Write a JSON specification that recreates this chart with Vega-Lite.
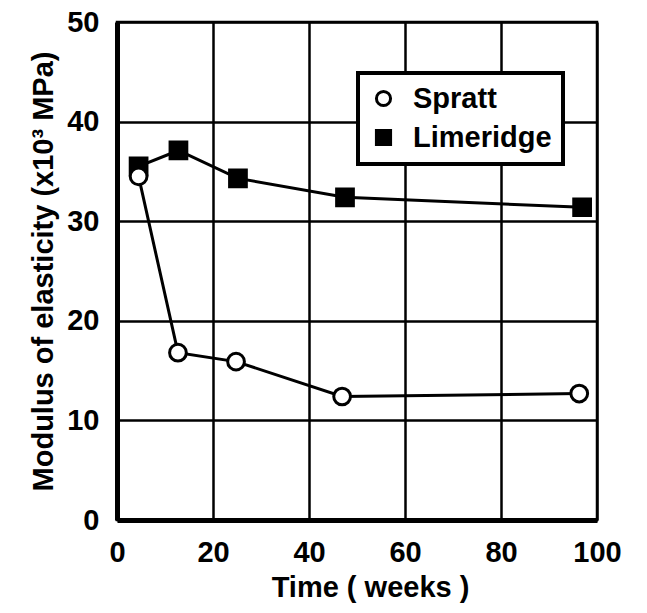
{
  "$schema": "https://vega.github.io/schema/vega-lite/v6.json",
  "autosize": "none",
  "width": 480,
  "height": 498,
  "padding": {"left": 117, "top": 22, "right": 50, "bottom": 93},
  "background": "white",
  "config": {
    "font": "Liberation Sans",
    "view": {"stroke": "black", "strokeWidth": 2.5},
    "axis": {
      "labelFont": "Liberation Sans",
      "labelFontSize": 29,
      "labelFontWeight": "bold",
      "labelColor": "black",
      "titleFont": "Liberation Sans",
      "titleFontSize": 29,
      "titleFontWeight": "bold",
      "titleColor": "black",
      "grid": true,
      "gridColor": "black",
      "gridWidth": 2.5,
      "gridOpacity": 1,
      "domainColor": "black",
      "domainWidth": 5,
      "ticks": false
    },
    "legend": {
      "title": null,
      "orient": "none",
      "legendX": 241,
      "legendY": 51,
      "fillColor": "white",
      "strokeColor": "black",
      "strokeWidth": 4,
      "padding": 11,
      "labelFont": "Liberation Sans",
      "labelFontSize": 29,
      "labelFontWeight": "bold",
      "labelColor": "black",
      "symbolSize": 200,
      "symbolStrokeWidth": 3,
      "symbolStrokeColor": "black",
      "rowPadding": 9,
      "labelOffset": 15
    }
  },
  "data": {
    "values": [
      {"week": 4.5, "modulus": 35.5, "site": "Limeridge"},
      {"week": 12.8, "modulus": 37.1, "site": "Limeridge"},
      {"week": 25.2, "modulus": 34.3, "site": "Limeridge"},
      {"week": 47.5, "modulus": 32.4, "site": "Limeridge"},
      {"week": 96.9, "modulus": 31.4, "site": "Limeridge"},
      {"week": 4.5, "modulus": 34.5, "site": "Spratt"},
      {"week": 12.7, "modulus": 16.8, "site": "Spratt"},
      {"week": 24.8, "modulus": 15.9, "site": "Spratt"},
      {"week": 46.9, "modulus": 12.4, "site": "Spratt"},
      {"week": 96.3, "modulus": 12.7, "site": "Spratt"}
    ]
  },
  "encoding": {
    "x": {
      "field": "week",
      "type": "quantitative",
      "scale": {"domain": [0, 100], "nice": false},
      "axis": {
        "values": [0, 20, 40, 60, 80, 100],
        "labelPadding": 18,
        "labelFlush": false,
        "title": "Time ( weeks )",
        "titlePadding": 6,
        "titleX": 253
      }
    },
    "y": {
      "field": "modulus",
      "type": "quantitative",
      "scale": {"domain": [0, 50], "nice": false},
      "axis": {
        "values": [0, 10, 20, 30, 40, 50],
        "labelPadding": 18,
        "labelFlush": false,
        "title": "Modulus of elasticity (x10³ MPa)",
        "titlePadding": 8
      }
    }
  },
  "layer": [
    {
      "mark": {"type": "line", "color": "black", "strokeWidth": 3},
      "encoding": {"detail": {"field": "site", "type": "nominal"}}
    },
    {
      "mark": {"type": "point", "filled": false, "strokeWidth": 3, "size": 280, "opacity": 1},
      "encoding": {
        "shape": {
          "field": "site",
          "type": "nominal",
          "scale": {"domain": ["Spratt", "Limeridge"], "range": ["circle", "square"]}
        },
        "fill": {
          "field": "site",
          "type": "nominal",
          "scale": {"domain": ["Spratt", "Limeridge"], "range": ["white", "black"]}
        },
        "stroke": {
          "field": "site",
          "type": "nominal",
          "scale": {"domain": ["Spratt", "Limeridge"], "range": ["black", "black"]}
        }
      }
    }
  ]
}
